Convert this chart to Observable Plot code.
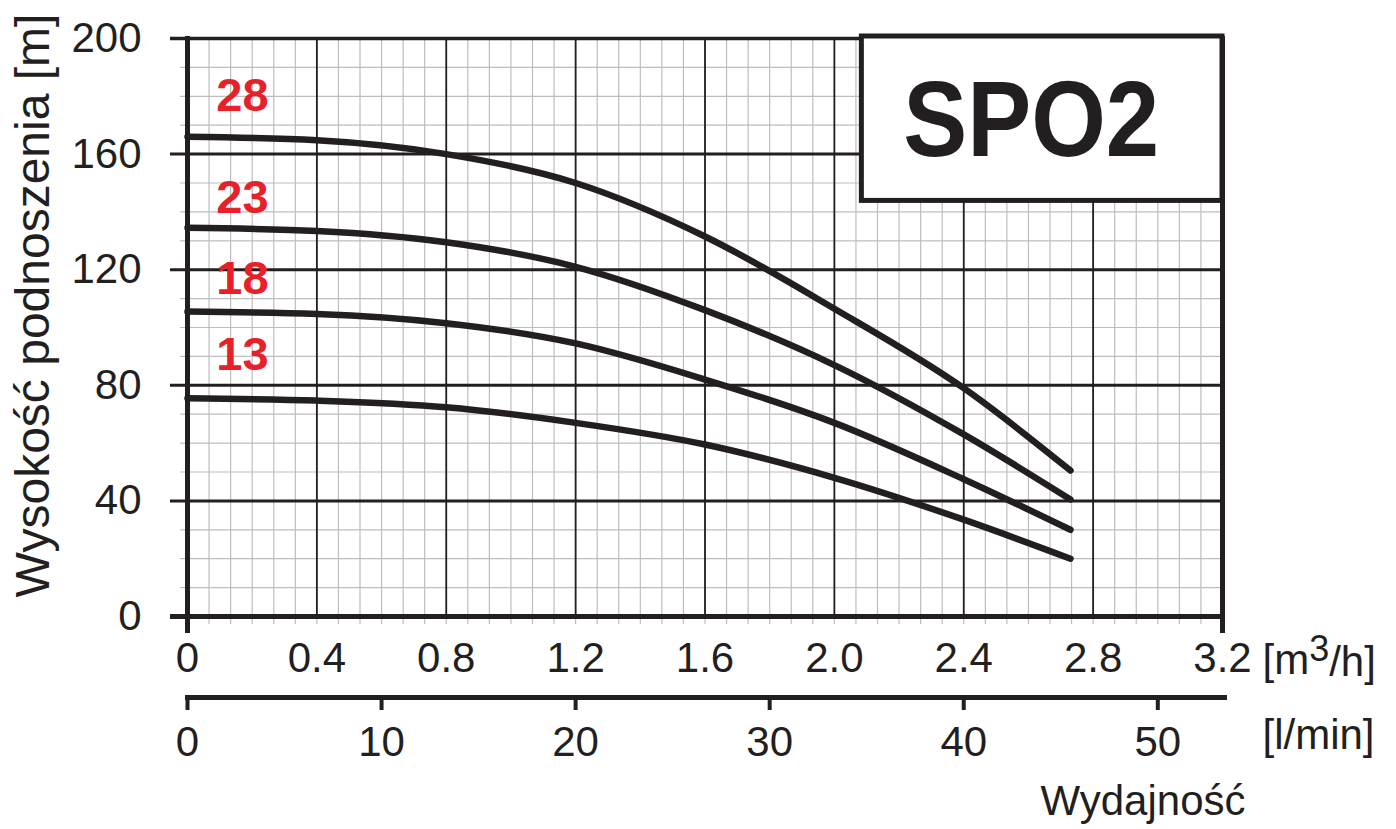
<!DOCTYPE html>
<html>
<head>
<meta charset="utf-8">
<script src="https://cdn.jsdelivr.net/npm/d3@7"></script>
<script src="https://cdn.jsdelivr.net/npm/@observablehq/plot@0.6"></script>
<style>
  body { margin: 0; background: #ffffff; }
  #chart { width: 1396px; height: 829px; overflow: hidden; }
  #chart svg { display: block; }
</style>
</head>
<body>
<div id="chart"></div>
<script>
// ---------- data ----------
const flow   = [0, 0.4, 0.8, 1.2, 1.6, 2.0, 2.4, 2.73];          // m3/h
const head28 = [166, 164.8, 160, 150, 131.5, 106.5, 79, 50.5];   // m
const head23 = [134.5, 133.4, 129.5, 121, 106, 87, 63, 40.5];
const head18 = [105.5, 104.7, 101.5, 94.5, 82, 67, 47.5, 30];
const head13 = [75.5, 74.7, 72.4, 67, 59.5, 48, 33.5, 20];
const seriesNames = ["28", "23", "18", "13"];
const labelFlow = [0.17, 0.17, 0.17, 0.17];
const labelHead = [180, 144.7, 116.7, 90.6];

const xTickValues = [0, 0.4, 0.8, 1.2, 1.6, 2.0, 2.4, 2.8, 3.2];
const xTickLabels = ["0", "0.4", "0.8", "1.2", "1.6", "2.0", "2.4", "2.8", "3.2"];
const yTickValues = [0, 40, 80, 120, 160, 200];
const yTickLabels = ["0", "40", "80", "120", "160", "200"];
const lminTickValues = [0, 10, 20, 30, 40, 50];
const lminTickLabels = ["0", "10", "20", "30", "40", "50"];
const modelName = "SPO2";
const titleBox = [{x1: 2.085, x2: 3.2, y1: 143.8, y2: 200}];
const yTitle = "Wysokość podnoszenia [m]";
const xUnit = "[m3/h]";
const xUnit2 = "[l/min]";
const xTitle = "Wydajność";

// ---------- derived tables ----------
const heads = [head28, head23, head18, head13];
const curveData = heads.flatMap((h, s) => h.map((v, i) => ({series: seriesNames[s], flow: flow[i], head: v})));
const labels = seriesNames.map((n, i) => ({name: n, flow: labelFlow[i], head: labelHead[i]}));
const xMinor = d3.range(0, 49).map(i => +(i * 0.4 / 6).toFixed(5));
const yMinor = d3.range(0, 201, 10);
const xMajorInner = xTickValues.slice(1, -1);
const yMajorInner = yTickValues.slice(1, -1);

const ink = "#231f20";
const grey = "#bdbdbd";
const red = "#e8202a";
const font = "'Liberation Sans', Arial, Helvetica, sans-serif";

const main = Plot.plot({
  width: 1396, height: 680,
  marginLeft: 187, marginRight: 174, marginTop: 38, marginBottom: 64,
  x: {domain: [0, 3.2], axis: null},
  y: {domain: [0, 200], axis: null},
  style: {fontFamily: font, background: "white", color: ink, overflow: "visible"},
  marks: [
    Plot.ruleX(xMinor, {stroke: grey, strokeWidth: 1.2, insetBottom: -8}),
    Plot.ruleY(yMinor, {stroke: grey, strokeWidth: 1.2, insetLeft: -7}),
    Plot.ruleX(xMajorInner, {stroke: ink, strokeWidth: 1.8}),
    Plot.ruleY(yMajorInner, {stroke: ink, strokeWidth: 3, insetLeft: -17}),
    Plot.ruleY([200], {stroke: ink, strokeWidth: 3.5, insetLeft: -17}),
    Plot.ruleY([0], {stroke: ink, strokeWidth: 5, insetLeft: -17, insetRight: -3}),
    Plot.ruleX([0], {stroke: ink, strokeWidth: 5, insetBottom: -17, insetTop: -2}),
    Plot.ruleX([3.2], {stroke: ink, strokeWidth: 5, insetBottom: -17, insetTop: -2}),
    Plot.line(curveData, {x: "flow", y: "head", z: "series", stroke: ink, strokeWidth: 6.5, curve: "monotone-x"}),
    Plot.rect(titleBox, {x1: "x1", x2: "x2", y1: "y1", y2: "y2", fill: "white", stroke: ink, strokeWidth: 5, insetTop: -2}),
    Plot.text([modelName], {
      x: (titleBox[0].x1 + titleBox[0].x2) / 2, y: (titleBox[0].y1 + titleBox[0].y2) / 2,
      dx: -11, dy: 2, fontSize: 108, fontWeight: "bold", fill: ink, lineAnchor: "middle"
    }),
    Plot.text(labels, {x: "flow", y: "head", text: "name", fill: red, fontWeight: "bold", fontSize: 47, lineAnchor: "middle"}),
    Plot.text(yTickValues, {y: d => d, text: (d, i) => yTickLabels[i], frameAnchor: "left", dx: -46, textAnchor: "end", lineAnchor: "middle", fontSize: 42, fill: ink}),
    Plot.text(xTickValues, {x: d => d, text: (d, i) => xTickLabels[i], frameAnchor: "bottom", dy: 42, lineAnchor: "middle", fontSize: 42, fill: ink}),
    Plot.text([xUnit], {frameAnchor: "bottom-right", dx: 40, dy: 44, textAnchor: "start", lineAnchor: "middle", fontSize: 42, fill: ink}),
    Plot.text([yTitle], {frameAnchor: "left", rotate: -90, dx: -154, dy: -22, textAnchor: "middle", lineAnchor: "middle", fontSize: 48, fill: ink})
  ]
});

const svgMain = d3.select(main);
// superscript 3 in the unit label
svgMain.selectAll("text").filter(function () { return this.textContent === xUnit; }).each(function () {
  const t = d3.select(this);
  t.text(null);
  t.append("tspan").text("[m");
  t.append("tspan").attr("dy", "-0.35em").attr("font-size", "36px").text("3");
  t.append("tspan").attr("dy", "0.35em").text("/h]");
});
// slightly condensed model name, as in the reference
svgMain.selectAll("text").filter(function () { return this.textContent === modelName; })
  .attr("textLength", 256).attr("lengthAdjust", "spacingAndGlyphs");

const lmin = Plot.plot({
  width: 1396, height: 149,
  marginLeft: 187, marginRight: 174, marginTop: 17, marginBottom: 119,
  x: {domain: [0, 3.2 * 1000 / 60], axis: null},
  y: {domain: [0, 1], axis: null},
  style: {fontFamily: font, background: "white", color: ink, overflow: "visible"},
  marks: [
    Plot.ruleY([1], {stroke: ink, strokeWidth: 5, insetRight: -5, insetLeft: -2}),
    Plot.ruleX(lminTickValues, {stroke: ink, strokeWidth: 4, insetTop: -2}),
    Plot.text(lminTickValues, {x: d => d, text: (d, i) => lminTickLabels[i], frameAnchor: "bottom", dy: 32, lineAnchor: "middle", fontSize: 42, fill: ink}),
    Plot.text([xUnit2], {frameAnchor: "bottom-right", dx: 40, dy: 25, textAnchor: "start", lineAnchor: "middle", fontSize: 42, fill: ink}),
    Plot.text([xTitle], {frameAnchor: "bottom-right", dx: 23, dy: 91, textAnchor: "end", lineAnchor: "middle", fontSize: 42, fill: ink})
  ]
});

const chart = document.getElementById("chart");
chart.appendChild(main);
chart.appendChild(lmin);
</script>
</body>
</html>
